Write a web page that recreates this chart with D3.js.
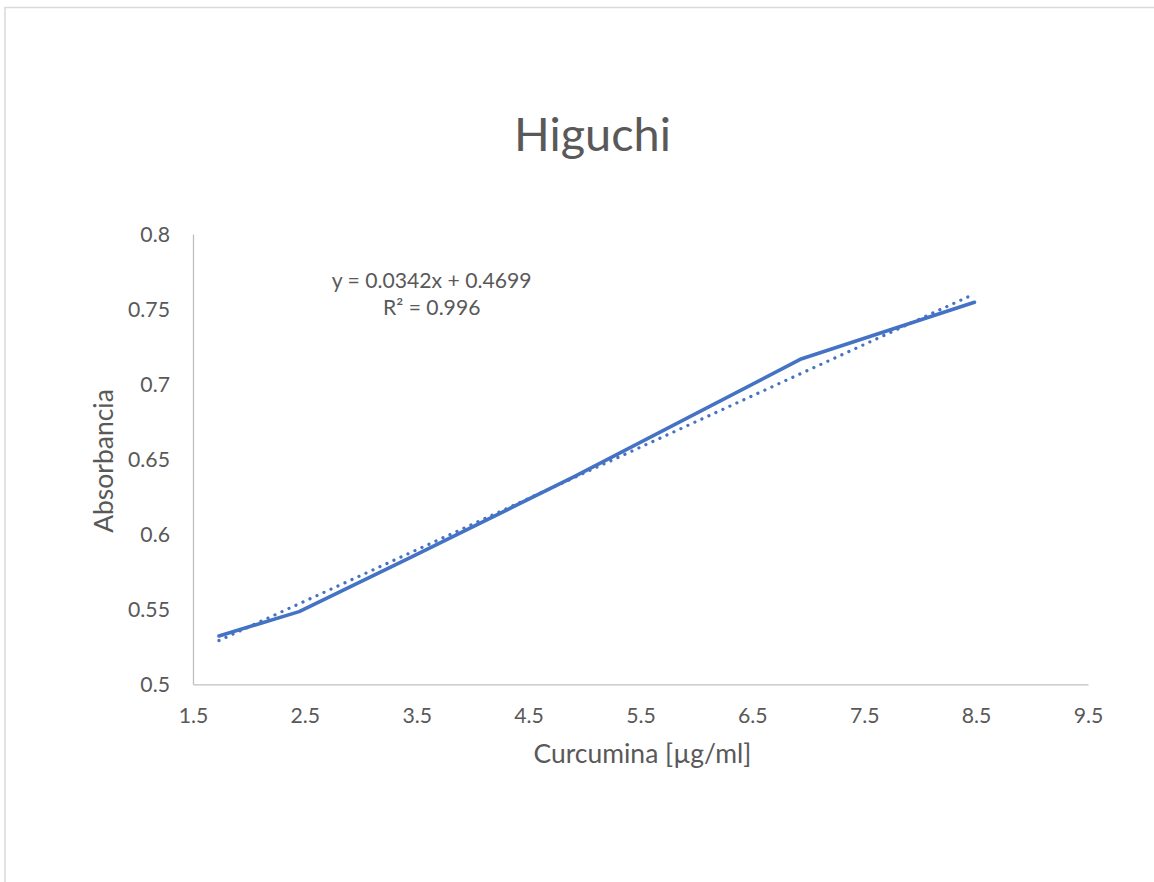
<!DOCTYPE html>
<html>
<head>
<meta charset="utf-8">
<script src="https://cdn.jsdelivr.net/npm/d3@7"></script>
<style>
  html, body { margin: 0; padding: 0; background: #ffffff; }
  svg { display: block; }
  text { font-family: Lato, "Open Sans", sans-serif; fill: #595959; }
</style>
</head>
<body>
<svg id="chart" width="1154" height="882"></svg>
<script>
// ---- data ----
const chartTitle = "Higuchi";
const xAxisTitle = "Curcumina [µg/ml]";
const yAxisTitle = "Absorbancia";
const xValues = [1.732, 2.449, 3.464, 4.899, 6.928, 8.485];
const yValues = [0.5322, 0.5484, 0.5852, 0.6380, 0.7165, 0.7545];
const xTicks = [1.5, 2.5, 3.5, 4.5, 5.5, 6.5, 7.5, 8.5, 9.5];
const yTicks = [0.5, 0.55, 0.6, 0.65, 0.7, 0.75, 0.8];
const trendSlope = 0.0342;
const trendIntercept = 0.4699;
const equationLines = ["y = 0.0342x + 0.4699", "R² = 0.996"];

// ---- layout ----
const svg = d3.select("#chart");
const plot = { left: 193, right: 1088, top: 234, bottom: 684.3 };
const x = d3.scaleLinear().domain([1.5, 9.5]).range([plot.left, plot.right]);
const y = d3.scaleLinear().domain([0.5, 0.8]).range([plot.bottom, plot.top]);

// fit font size so the text has the target width
function fit(sel, target) {
  const w = sel.node().getComputedTextLength();
  const fs = parseFloat(sel.attr("font-size"));
  const nfs = fs * target / w;
  sel.attr("font-size", nfs);
  return nfs;
}

// chart border
svg.append("rect")
  .attr("x", 5).attr("y", 7.5)
  .attr("width", 1200).attr("height", 1000)
  .attr("fill", "none").attr("stroke", "#d9d9d9").attr("stroke-width", 1.5);

// title
const t = svg.append("text").text(chartTitle)
  .attr("x", 592.5).attr("y", 151).attr("text-anchor", "middle")
  .attr("font-size", 48);
fit(t, 157);

// axes (no tick marks)
const gx = svg.append("g").attr("transform", `translate(0,${plot.bottom})`)
  .call(d3.axisBottom(x).tickValues(xTicks).tickSize(0).tickPadding(0).tickFormat(d3.format(".1f")));
const gy = svg.append("g").attr("transform", `translate(${plot.left},0)`)
  .call(d3.axisLeft(y).tickValues(yTicks).tickSize(0).tickPadding(0).tickFormat(d => String(+d.toFixed(2))));
[gx, gy].forEach(g => {
  g.select(".domain").attr("stroke", "#bfbfbf").attr("stroke-width", 1.3);
  g.selectAll("text").attr("fill", "#595959").attr("font-family", "Lato, 'Open Sans', sans-serif");
});

// measure tick font size
const probe = svg.append("text").text("0.75").attr("font-size", 20);
const tickFs = fit(probe, 42);
probe.remove();

gx.selectAll(".tick text")
  .attr("font-size", tickFs)
  .attr("y", 723 - plot.bottom).attr("dy", 0);
gy.selectAll(".tick text")
  .attr("font-size", tickFs)
  .attr("x", 170 - plot.left).attr("dy", "0.36em");

// axis titles
const xt = svg.append("text").text(xAxisTitle)
  .attr("x", 642.5).attr("y", 763).attr("text-anchor", "middle")
  .attr("font-size", 24);
const axFs = fit(xt, 218);
svg.append("text").text(yAxisTitle)
  .attr("transform", "translate(113,461) rotate(-90)")
  .attr("text-anchor", "middle")
  .attr("font-size", axFs);

// data line
const line = d3.line().x(d => x(d[0])).y(d => y(d[1]));
const pts = xValues.map((v, i) => [v, yValues[i]]);
svg.append("path").datum(pts)
  .attr("d", line)
  .attr("fill", "none").attr("stroke", "#4472c4")
  .attr("stroke-width", 3.6).attr("stroke-linejoin", "round").attr("stroke-linecap", "round");

// linear trendline (dotted)
const xExt = d3.extent(xValues);
const trendPts = xExt.map(v => [v, trendSlope * v + trendIntercept]);
svg.append("path").datum(trendPts)
  .attr("d", line)
  .attr("fill", "none").attr("stroke", "#4472c4")
  .attr("stroke-width", 3.2).attr("stroke-linecap", "round")
  .attr("stroke-dasharray", "0.1 7.6");

// equation label
const e1 = svg.append("text").text(equationLines[0])
  .attr("x", 431.7).attr("y", 288).attr("text-anchor", "middle")
  .attr("font-size", 20);
const eqFs = fit(e1, 200);
svg.append("text").text(equationLines[1])
  .attr("x", 431.7).attr("y", 315).attr("text-anchor", "middle")
  .attr("font-size", eqFs);
</script>
</body>
</html>
